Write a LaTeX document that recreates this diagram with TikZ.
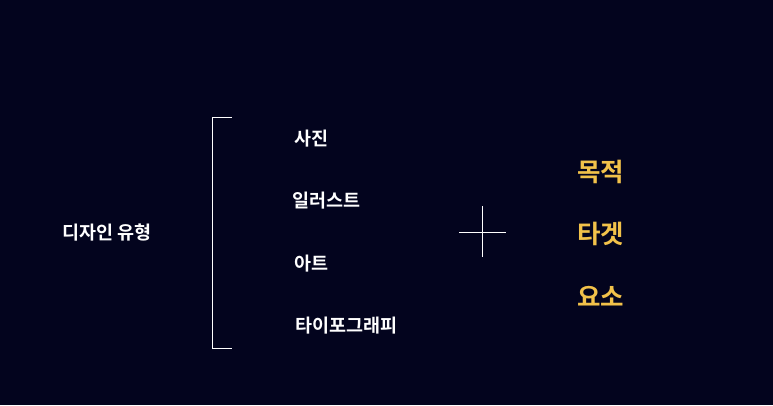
\documentclass[tikz,border=0pt]{standalone}
\usepackage{fontspec}
\newfontfamily\kr{Noto Sans CJK KR}[BoldFont={* Bold}]
\definecolor{bg}{HTML}{03041E}
\definecolor{gold}{HTML}{F2C24A}
\begin{document}
\begin{tikzpicture}[x=1pt,y=-1pt,
  item/.style={text=white,font=\kr\bfseries\fontsize{18.5}{22}\selectfont,anchor=west,inner sep=0},
  goal/.style={text=gold,font=\kr\bfseries\fontsize{25.5}{30}\selectfont,anchor=west,inner sep=0}]
        \fill[bg] (0,0) rectangle (773,405);
        \useasboundingbox (0,0) rectangle (773,405);

        \node[item] (type) at (62,233) {디자인 유형};

        \coordinate (bt) at (212,117);
        \coordinate (bb) at (212,348);
        \draw[white,line width=0.8pt] ([xshift=20]bt) -- (bt) -- (bb) -- ([xshift=20]bb);

        \node[item] (photo) at (294,139) {사진};
        \node[item] (illu) at (292,201) {일러스트};
        \node[item] (art) at (294,264) {아트};
        \node[item] (typo) at (295,326) {타이포그래피};

        \coordinate (plus) at (482,232);
        \draw[white,line width=0.6pt] ([xshift=-23]plus) -- ([xshift=24]plus)
          ([yshift=-25]plus) -- ([yshift=26]plus);

        \node[goal] (purpose) at (577,172) {목적};
        \node[goal] (target) at (577,234) {타겟};
        \node[goal] (element) at (577,296) {요소};
      \end{tikzpicture}
\end{document}
